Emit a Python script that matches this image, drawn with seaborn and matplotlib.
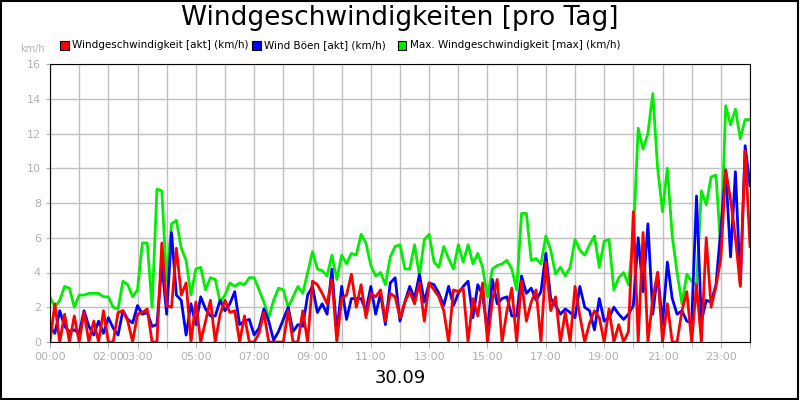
import numpy as np
import pandas as pd
import seaborn as sns
import matplotlib
matplotlib.use("Agg")
import matplotlib.pyplot as plt
from matplotlib.patches import Rectangle

# 10-minute samples, 00:00 .. 24:00
akt = [0,2.2,0,1.6,0,1.5, 0,1.7,0,1.2,0,1.8, 0,0,1.7,1.8,1.2,0, 1.6,1.7,1.9,0,0,5.7,
       2.1,2.0,5.4,2.7,3.4,0, 2.3,0,1.2,2.4,0,1.6, 2.4,1.7,1.8,0,1.5,0, 0,0.5,1.7,0,0,0,
       0,1.8,0,0,1.8,0, 3.5,3.3,2.8,2.2,3.6,0, 2.5,2.7,3.9,2.0,3.3,1.4, 2.8,2.6,3.0,1.2,2.8,2.6,
       1.4,2.3,2.9,2.2,3.4,1.2, 3.4,3.0,2.6,1.8,0,3.0, 2.9,3.1,0,2.5,1.5,3.4, 0,2.4,3.6,0,1.8,3.1,
       0,3.5,1.2,2.3,3.0,0, 4.6,1.8,2.6,0,1.7,0, 3.2,1.5,0,1.1,1.8,1.4, 0,1.9,0,1.0,0,0.6,
       7.5,0,6.3,0,2.5,4.0, 0,2.2,0,0,1.8,2.9, 0,3.3,0,6.0,2.0,3.2, 4.8,9.9,8.2,6.0,3.2,11.0, 5.5]
boeen = [0.9,0.5,1.8,0.9,0.6,0.7, 0.5,1.8,0.9,0.4,1.2,0.5, 1.4,0.8,0.4,1.8,1.3,1.1, 2.1,1.6,1.7,0.9,1.0,4.5,
         1.6,6.3,2.7,2.4,0.4,2.2, 1.0,2.6,1.9,1.5,1.5,2.4, 1.8,2.2,2.9,1.0,1.2,1.3, 0.4,0.8,1.9,1.2,0.1,0.6,
         1.3,2.0,0.6,1.0,0.9,2.7, 3.2,1.7,2.2,1.6,4.2,0.5, 3.2,1.3,2.5,2.5,2.5,1.8, 3.2,1.6,2.8,1.0,3.4,3.7,
         1.2,2.3,3.2,2.5,3.9,2.3, 3.4,3.3,2.8,2.1,3.2,2.1, 2.8,3.2,3.5,1.4,3.3,2.7, 0.6,3.6,2.2,2.5,2.6,1.5,
         1.5,3.8,2.8,3.1,2.4,2.9, 5.1,2.5,2.1,1.6,1.9,1.7, 1.4,3.2,2.0,1.8,0.7,2.5, 1.2,1.4,2.0,1.6,1.3,1.6,
         2.1,6.0,2.9,6.8,1.6,4.0, 1.0,4.6,2.5,1.6,1.8,1.2, 1.1,8.4,1.2,2.4,2.3,3.3, 6.5,9.9,4.9,9.8,3.3,11.3, 9.0]
maxw = [2.6,2.0,2.4,3.2,3.1,2.0, 2.7,2.7,2.8,2.8,2.8,2.6, 2.6,2.0,1.9,3.5,3.3,2.6,
        3.0,5.7,5.7,2.0,8.8,8.7, 3.5,6.8,7.0,5.4,4.7,2.7, 4.2,4.3,3.0,3.7,3.6,2.3, 2.7,3.4,3.2,3.4,3.3,3.7,
        3.7,3.0,2.3,1.4,2.4,3.1, 3.0,2.0,2.6,3.2,2.8,4.0, 5.2,4.2,4.1,3.8,5.0,3.6, 5.0,4.5,5.1,5.0,6.2,5.7,
        4.4,3.8,4.0,3.3,4.9,5.5, 5.6,4.2,4.2,5.6,3.8,5.9, 6.2,4.6,4.3,5.5,4.8,4.2, 5.6,4.6,5.6,4.5,5.1,4.3,
        2.6,4.2,4.4,4.5,4.7,4.2, 3.0,7.4,7.4,4.7,4.8,4.5, 6.1,5.3,3.9,4.3,3.8,4.3, 5.9,5.3,5.0,5.6,6.1,4.3,
        5.8,5.9,3.0,3.7,4.0,3.3, 6.0,12.3,11.1,12.0,14.3,10.0, 7.5,10.0,6.1,4.0,2.2,3.9, 3.5,3.3,8.7,7.9,9.5,9.6,
        5.3,13.6,12.5,13.4,11.7,12.8, 12.8]
hours = [i / 6 for i in range(len(akt))]
tick_hours = [0, 2, 3, 5, 7, 9, 11, 13, 15, 17, 19, 21, 23]
tick_labels = ["00:00", "02:00", "03:00", "05:00", "07:00", "09:00", "11:00",
               "13:00", "15:00", "17:00", "19:00", "21:00", "23:00"]
names = ["Windgeschwindigkeit [akt] (km/h)", "Wind Böen [akt] (km/h)",
         "Max. Windgeschwindigkeit [max] (km/h)"]
colors = ["#ff0000", "#0000ff", "#00ee00"]

df = pd.DataFrame({"h": hours, names[0]: akt, names[1]: boeen, names[2]: maxw})
long = df.melt(id_vars="h", var_name="s", value_name="v")

fig = plt.figure(figsize=(8, 4), dpi=100, facecolor="white")
fig.patches.append(Rectangle((0.001, 0.002), 0.997, 0.995, transform=fig.transFigure,
                             fill=False, edgecolor="black", linewidth=1.5))
ax = fig.add_axes([0.0625, 0.145, 0.875, 0.695])
order = [names[2], names[1], names[0]]
sns.lineplot(data=long, x="h", y="v", hue="s", hue_order=order,
             palette=dict(zip(names, colors)), linewidth=2, ax=ax, legend=False)
ax.set_xlim(0, 24)
ax.set_ylim(0, 16)
ax.set_xticks(range(25), minor=True)
ax.set_xticks(tick_hours)
ax.set_xticklabels(tick_labels)
ax.set_yticks(range(0, 17, 2))
ax.grid(True, which="both", color="#c0c0c0", linewidth=1)
ax.set_axisbelow(True)
ax.tick_params(axis="both", which="both", colors="#b0b0b0", labelsize=8, labelcolor="#b0b0b0", length=4)
ax.tick_params(axis="y", length=3)
for s in ax.spines.values():
    s.set_color("black")
ax.set_xlabel("")
ax.set_ylabel("")

fig.text(0.5, 0.955, "Windgeschwindigkeiten [pro Tag]", ha="center", va="center", fontsize=19)
fig.text(0.04, 0.878, "km/h", ha="center", va="center", fontsize=7, color="#b0b0b0")
fig.text(0.5, 0.055, "30.09", ha="center", va="center", fontsize=13)
lx = [0.075, 0.315, 0.497]
for x, n, c in zip(lx, names, colors):
    fig.patches.append(Rectangle((x, 0.875), 0.011, 0.022, transform=fig.transFigure,
                                 facecolor=c, edgecolor="black", linewidth=0.8))
    fig.text(x + 0.015, 0.887, n, ha="left", va="center", fontsize=7.5)

fig.savefig("out.png", dpi=100, facecolor="white")
